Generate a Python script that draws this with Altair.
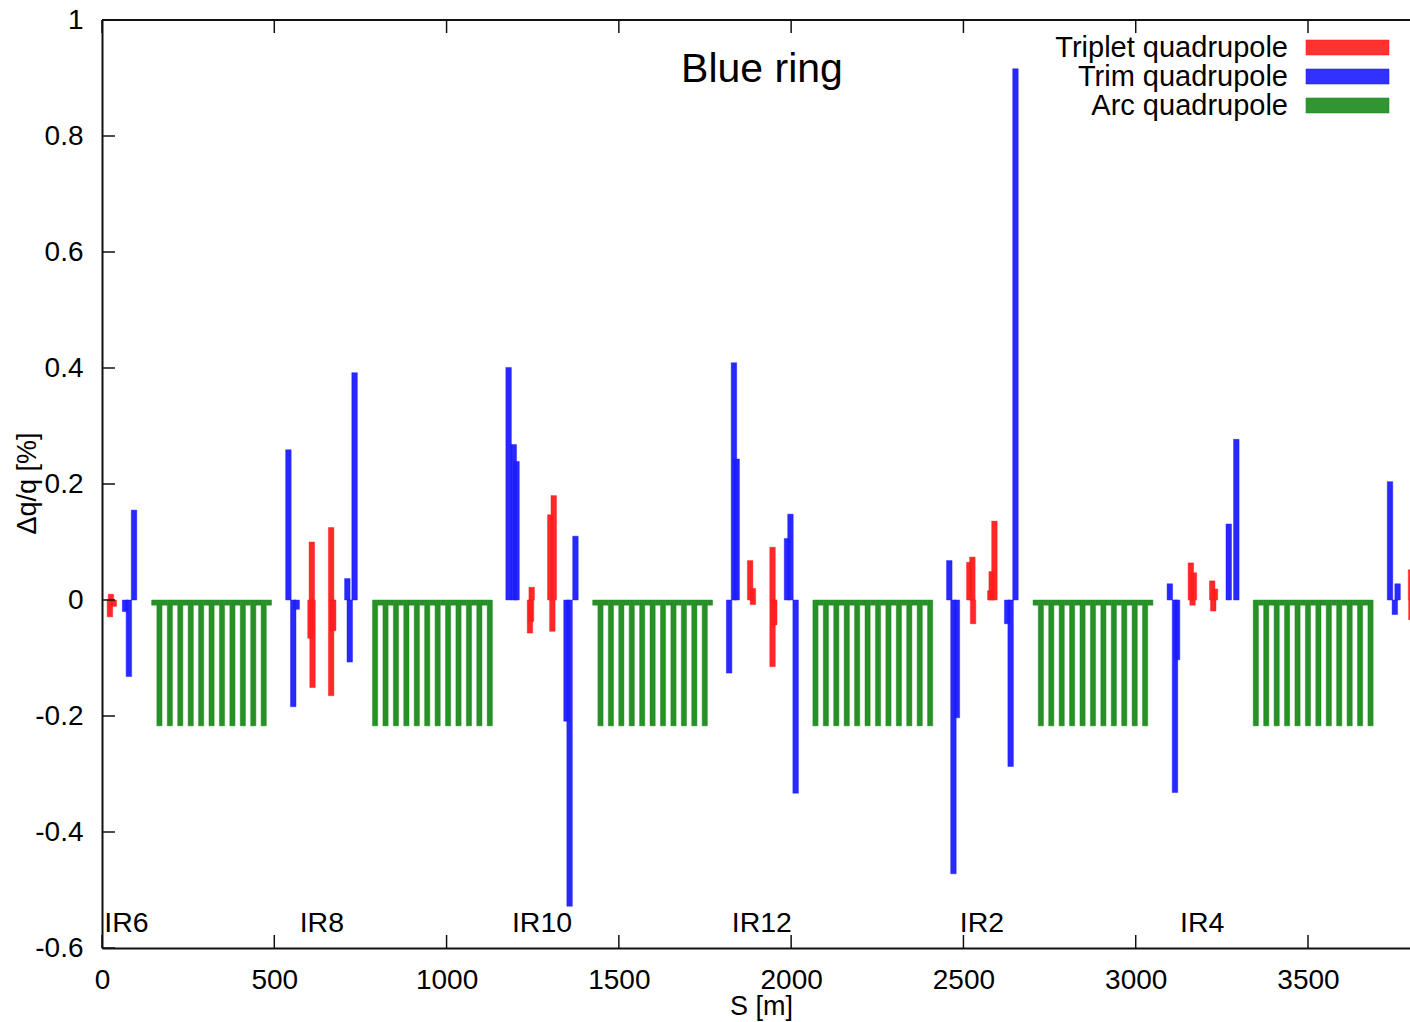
import altair as alt
import pandas as pd

FONT = "Liberation Sans"
S_MAX = 3796          # right end of the drawn part of the ring [m]
PLOT_W, PLOT_H = 1308, 928

# ---- triplet quadrupoles: position s [m] and tune change dq/q [%]
triplet_s = [23, 26, 34,
             605, 609, 611, 665, 665, 671,
             1242, 1245, 1247, 1301, 1307, 1311,
             1881, 1889, 1889, 1946, 1946, 1951,
             2517, 2526, 2528, 2578, 2582, 2590,
             3160, 3165, 3169, 3222, 3225, 3230,
             3799, 3800]
triplet_dq = [-0.029, 0.010, -0.011,
              -0.066, 0.100, -0.151, 0.125, -0.165, -0.053,
              -0.057, -0.037, 0.022, 0.147, -0.054, 0.180,
              0.068, 0.020, -0.008, 0.091, -0.115, -0.043,
              0.065, 0.074, -0.041, 0.016, 0.049, 0.136,
              0.064, -0.009, 0.047, 0.033, -0.019, 0.019,
              0.052, -0.034]

# ---- trim quadrupoles
trim_s = [67, 78, 93,
          541, 555, 565, 712, 719, 733,
          1180, 1195, 1203, 1348, 1357, 1374,
          1820, 1834, 1842, 1988, 1998, 2013,
          2459, 2471, 2481, 2627, 2637, 2651,
          3099, 3114, 3120, 3270, 3292,
          3738, 3752, 3760]
trim_dq = [-0.020, -0.132, 0.155,
           0.259, -0.184, -0.016, 0.037, -0.107, 0.392,
           0.401, 0.268, 0.239, -0.209, -0.528, 0.110,
           -0.126, 0.409, 0.243, 0.106, 0.148, -0.333,
           0.068, -0.472, -0.203, -0.041, -0.287, 0.916,
           0.028, -0.332, -0.103, 0.131, 0.277,
           0.204, -0.025, 0.028]

# ---- arc quadrupoles: 23 per arc, alternating families
arc_start = [144, 785, 1424, 2063, 2702, 3341]
arc_deep_first = [False, True, False, True, False, True]
ARC_QUADS = 23
HALF_CELL = 15.13
arc_dq_deep = -0.217
arc_dq_shallow = -0.009

# ---- labels
x_ticks = [0, 500, 1000, 1500, 2000, 2500, 3000, 3500]
y_ticks = [-0.6, -0.4, -0.2, 0, 0.2, 0.4, 0.6, 0.8, 1.0]
ir_names = ["IR6", "IR8", "IR10", "IR12", "IR2", "IR4"]
ir_s = [71, 638, 1277, 1915, 2554, 3193]

kinds = ["Triplet quadrupole", "Trim quadrupole", "Arc quadrupole"]
colors = ["#ff1c1c", "#1c1cff", "#1b8a1b"]

# ---- build the table of boxes
MAG_W = 16.0
rows = []
for s0, first in zip(arc_start, arc_deep_first):
    for k in range(ARC_QUADS):
        deep = (k % 2 == 0) == first
        rows.append({"s0": s0 + k * HALF_CELL, "s1": s0 + (k + 1) * HALF_CELL,
                     "dq": arc_dq_deep if deep else arc_dq_shallow,
                     "kind": kinds[2]})
for s, dq in zip(triplet_s, triplet_dq):
    rows.append({"s0": s - MAG_W / 2, "s1": s + MAG_W / 2, "dq": dq, "kind": kinds[0]})
for s, dq in zip(trim_s, trim_dq):
    rows.append({"s0": s - MAG_W / 2, "s1": s + MAG_W / 2, "dq": dq, "kind": kinds[1]})
boxes = pd.DataFrame(rows)

xscale = alt.Scale(domain=[0, S_MAX], nice=False, zero=False)
yscale = alt.Scale(domain=[-0.6, 1.0], nice=False, zero=False)
cscale = alt.Scale(domain=kinds, range=colors)

y_label = ("datum.value == 0 ? '0' : (datum.value < 0 ? '-' : '') + "
           "format(abs(datum.value), '.1~f')")

# one axis definition per channel, shared by every layer so they merge cleanly
x_axis = alt.Axis(title="S [m]", values=x_ticks, format="d", tickSize=0,
                  labelFlush=False, labelPadding=40, labelBaseline="alphabetic",
                  labelFont=FONT, labelFontSize=28, labelColor="black",
                  titleFont=FONT, titleFontSize=27, titleFontWeight="normal",
                  titleColor="black", titleBaseline="alphabetic",
                  titleX=659, titleY=66, grid=False,
                  domainColor="#111111", domainWidth=2)
y_axis = alt.Axis(title="Δq/q [%]", values=y_ticks, labelExpr=y_label,
                  tickSize=0, labelPadding=19,
                  labelFont=FONT, labelFontSize=28, labelColor="black",
                  titleFont=FONT, titleFontSize=27, titleFontWeight="normal",
                  titleColor="black", titleAngle=270, titleBaseline="alphabetic",
                  titleAlign="center", titleX=-67, titleY=463, grid=False,
                  domainColor="#111111", domainWidth=2)

bars = alt.Chart(boxes).mark_rect(
    clip=True, strokeWidth=0.8, strokeOpacity=0.55, fillOpacity=0.95
).encode(
    x=alt.X("s0:Q", scale=xscale, axis=x_axis),
    x2="s1:Q",
    y=alt.Y("dq:Q", scale=yscale, axis=y_axis),
    y2=alt.datum(0),
    color=alt.Color("kind:N", scale=cscale, legend=None),
    stroke=alt.Stroke("kind:N", scale=cscale, legend=None),
)

# frame line along the top
top_line = alt.Chart(pd.DataFrame({"k": [0]})).mark_rule(
    color="#111111", strokeWidth=2
).encode(x=alt.value(0), x2=alt.value(PLOT_W), y=alt.value(0))

# inward ticks on the bottom, top and left edges
xt = pd.DataFrame({"s0": x_ticks})
yt = pd.DataFrame({"dq": y_ticks})
tick_style = dict(color="#111111", strokeWidth=1.5)
bottom_ticks = alt.Chart(xt).mark_rule(**tick_style).encode(
    x=alt.X("s0:Q", scale=xscale, axis=x_axis),
    y=alt.value(PLOT_H), y2=alt.value(PLOT_H - 13))
top_ticks = alt.Chart(xt).mark_rule(**tick_style).encode(
    x=alt.X("s0:Q", scale=xscale, axis=x_axis),
    y=alt.value(0), y2=alt.value(13))
left_ticks = alt.Chart(yt).mark_rule(**tick_style).encode(
    y=alt.Y("dq:Q", scale=yscale, axis=y_axis),
    x=alt.value(0), x2=alt.value(13))

# interaction-region names along the bottom
ir_text = alt.Chart(pd.DataFrame({"s0": ir_s, "name": ir_names})).mark_text(
    font=FONT, fontSize=28.5, color="black", align="center", baseline="alphabetic"
).encode(x=alt.X("s0:Q", scale=xscale, axis=x_axis), y=alt.value(912), text="name:N")

# title inside the frame
title = alt.Chart(pd.DataFrame({"t": ["Blue ring"]})).mark_text(
    font=FONT, fontSize=41, color="black", align="center", baseline="alphabetic"
).encode(x=alt.value(660), y=alt.value(62), text="t:N")

# key in the upper right corner: label, then a colour swatch
key_layers = []
for i, (kind, col) in enumerate(zip(kinds, colors)):
    top = 20 + 29 * i
    key_layers.append(
        alt.Chart(pd.DataFrame({"kind": [kind]})).mark_text(
            font=FONT, fontSize=29, color="black", align="right", baseline="alphabetic"
        ).encode(x=alt.value(1186), y=alt.value(top + 17), text="kind:N"))
    key_layers.append(
        alt.Chart(pd.DataFrame({"kind": [kind]})).mark_rect(
            fill=col, fillOpacity=0.9, stroke=col, strokeOpacity=0.55, strokeWidth=1
        ).encode(x=alt.value(1204), x2=alt.value(1287),
                 y=alt.value(top), y2=alt.value(top + 15)))

chart = alt.layer(
    bars, top_line, bottom_ticks, top_ticks, left_ticks, ir_text, title, *key_layers
).properties(
    width=PLOT_W, height=PLOT_H,
    autosize=alt.AutoSizeParams(type="none"),
    padding={"left": 102, "top": 20, "right": 0, "bottom": 74},
    background="white",
).configure_view(stroke=None)

chart.save("out.html", embed_options={"renderer": "svg", "actions": False})
